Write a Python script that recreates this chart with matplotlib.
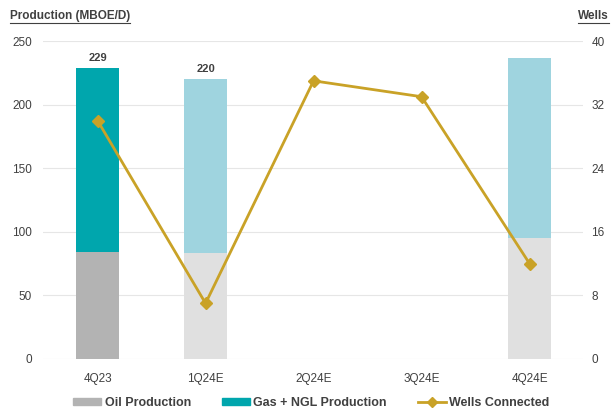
import numpy as np
import matplotlib
matplotlib.use('Agg')
import matplotlib.pyplot as plt
from matplotlib.lines import Line2D
from matplotlib.patches import Patch

# data
quarters = ['4Q23', '1Q24E', '2Q24E', '3Q24E', '4Q24E']
oil = [84, 83, 0, 0, 95]
gas_ngl = [145, 137, 0, 0, 142]
wells = [30, 7, 35, 33, 12]
total_labels = {0: '229', 1: '220'}

oil_colors = ['#b3b3b3', '#e0e0e0', '#e0e0e0', '#e0e0e0', '#e0e0e0']
gas_colors = ['#00a6ad', '#9fd4df', '#9fd4df', '#9fd4df', '#9fd4df']
gold = '#c9a227'
txt = '#404040'

plt.rcParams['font.family'] = ['Liberation Sans', 'DejaVu Sans']

fig = plt.figure(figsize=(6.11, 4.15), dpi=100)
ax = fig.add_axes([0.0704, 0.135, 0.8838, 0.766])
x = np.arange(len(quarters))

ax.bar(x, oil, width=0.39, color=oil_colors, zorder=2)
ax.bar(x, gas_ngl, width=0.39, bottom=oil, color=gas_colors, zorder=2)
for i, lab in total_labels.items():
    ax.text(i, oil[i] + gas_ngl[i] + 4, lab, ha='center', va='bottom',
            fontsize=8, fontweight='bold', color=txt)

ax.set_ylim(0, 250)
ax.set_xlim(-0.505, 4.495)
ax.set_yticks(np.arange(0, 251, 50))
ax.set_xticks(x)
ax.set_xticklabels(quarters)
ax.grid(axis='y', color='#e6e6e6', linewidth=0.8, zorder=0)
for s in ax.spines.values():
    s.set_visible(False)
ax.tick_params(axis='y', length=0, labelsize=8.5, colors=txt, pad=8)
ax.tick_params(axis='x', length=0, labelsize=8.5, colors=txt, pad=10)

ax2 = ax.twinx()
ax2.plot(x, wells, color=gold, linewidth=2, marker='D', markersize=6, zorder=3)
ax2.set_ylim(0, 40)
ax2.set_yticks(np.arange(0, 41, 8))
for s in ax2.spines.values():
    s.set_visible(False)
ax2.tick_params(length=0, labelsize=8.5, colors=txt, pad=6)

# axis titles with underline
fig.canvas.draw()
r = fig.canvas.get_renderer()
t1 = fig.text(0.016, 0.955, 'Production (MBOE/D)', fontsize=8.5, fontweight='bold',
              color=txt, ha='left', va='baseline')
t2 = fig.text(0.996, 0.955, 'Wells', fontsize=8.5, fontweight='bold',
              color=txt, ha='right', va='baseline')
for t in (t1, t2):
    bb = t.get_window_extent(renderer=r).transformed(fig.transFigure.inverted())
    fig.add_artist(Line2D([bb.x0, bb.x1], [bb.y0 - 0.004, bb.y0 - 0.004],
                          color=txt, linewidth=0.8, transform=fig.transFigure))

handles = [Patch(color='#b3b3b3', label='Oil Production'),
           Patch(color='#00a6ad', label='Gas + NGL Production'),
           Line2D([0], [0], color=gold, linewidth=2, marker='D', markersize=5,
                  label='Wells Connected')]
leg = fig.legend(handles=handles, loc='center', bbox_to_anchor=(0.51, 0.03), ncol=3,
                 frameon=False, fontsize=9, handlelength=2.2, handleheight=0.5,
                 columnspacing=2.5, handletextpad=0.3)
for t in leg.get_texts():
    t.set_color(txt)
    t.set_fontweight('bold')

fig.savefig('out.png', dpi=100)
